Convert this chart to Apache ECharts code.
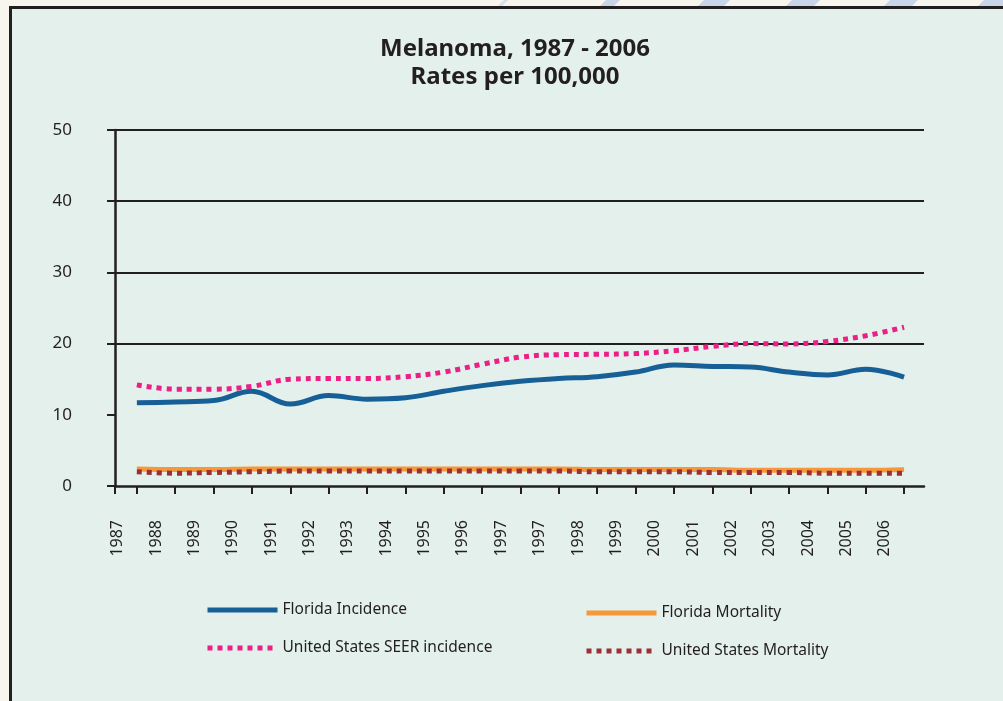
<!DOCTYPE html>
<html>
<head>
<meta charset="utf-8">
<script src="https://cdn.jsdelivr.net/npm/echarts@6/dist/echarts.min.js"></script>
<style>
html,body{margin:0;padding:0;background:#f8f4ee;overflow:hidden;}
#panel{position:absolute;left:9px;top:6px;width:1000px;height:700px;background:#e3f0eb;border-left:3px solid #231f20;border-top:3px solid #231f20;}
#chart{position:absolute;left:0;top:0;width:1003px;height:701px;}
</style>
</head>
<body>
<div id="panel"></div>
<div id="chart"></div>
<script>
// ---- data ----
const years = ['1987','1988','1989','1990','1991','1992','1993','1994','1995','1996','1997',
               '1997','1998','1999','2000','2001','2002','2003','2004','2005','2006'];
const floridaIncidence = [11.7, 11.8, 12.0, 13.3, 11.5, 12.7, 12.2, 12.4, 13.3, 14.1, 14.7,
                          15.1, 15.35, 16.0, 17.0, 16.8, 16.7, 16.0, 15.6, 16.4, 15.3];
const usSeerIncidence = [14.2, 13.6, 13.6, 14.0, 15.0, 15.1, 15.1, 15.35, 16.0, 17.1, 18.1,
                         18.45, 18.5, 18.6, 19.0, 19.6, 20.0, 19.95, 20.3, 21.1, 22.3];
const floridaMortality = [2.4, 2.3, 2.3, 2.4, 2.4, 2.4, 2.4, 2.4, 2.4, 2.4, 2.4,
                          2.4, 2.3, 2.3, 2.3, 2.3, 2.2, 2.2, 2.2, 2.2, 2.3];
const usMortality = [2.0, 1.8, 1.9, 2.0, 2.1, 2.1, 2.1, 2.1, 2.1, 2.1, 2.1,
                     2.1, 2.0, 2.0, 2.0, 1.9, 1.9, 1.9, 1.8, 1.8, 1.8];
const yTickValues = [0, 10, 20, 30, 40, 50];
const seriesNames = ['Florida Incidence', 'Florida Mortality', 'United States SEER incidence', 'United States Mortality'];

// ---- build ----
const idx = years.map((_, i) => i);
const X_MIN = -0.57, X_MAX = 20.52;
const tickVals = [X_MIN].concat(idx);
const labelVals = idx.map(i => i - 0.5);
const pairs = arr => arr.map((v, i) => [i, v]);
const INK = '#231f20';
const FONT = "'Noto Sans',sans-serif";

const chart = echarts.init(document.getElementById('chart'), null, {renderer: 'canvas'});

function stripe(x, w, color) {
  return {type: 'polygon', silent: true, z: -10,
    shape: {points: [[x + 6, 0], [x + 6 + w, 0], [x + w, 6], [x, 6]]},
    style: {fill: color}};
}

const legendCommon = {
  orient: 'vertical', itemGap: 18, padding: 0,
  itemWidth: 70, itemHeight: 20,
  itemStyle: {opacity: 0, color: 'transparent', borderWidth: 0},
  lineStyle: {width: 5},
  textStyle: {fontFamily: FONT, fontSize: 15.5, color: INK, lineHeight: 20},
  selectedMode: false
};

chart.setOption({
  backgroundColor: 'transparent',
  animation: false,
  graphic: [
    stripe(498, 4, '#d9e0ec'), stripe(600, 14, '#c8d4e8'), stripe(698, 26, '#c8d4e8'),
    stripe(786, 28, '#c8d4e8'), stripe(884, 28, '#c8d4e8'), stripe(978, 30, '#c8d4e8')
  ],
  title: {
    text: 'Melanoma, 1987 - 2006\nRates per 100,000',
    left: 515, top: 35, textAlign: 'center', padding: 0,
    textStyle: {fontFamily: FONT, fontWeight: 'bold', fontSize: 24, lineHeight: 28, color: INK}
  },
  grid: {left: 115, right: 79, top: 130, bottom: 215, containLabel: false},
  legend: [
    Object.assign({data: [seriesNames[0], seriesNames[2]], left: 205, top: 600}, legendCommon),
    Object.assign({data: [seriesNames[1], seriesNames[3]], left: 584, top: 603}, legendCommon)
  ],
  xAxis: {
    type: 'value', min: X_MIN, max: X_MAX,
    axisLine: {show: true, onZero: false, lineStyle: {color: INK, width: 2.5}},
    axisTick: {show: true, customValues: tickVals, length: 8, lineStyle: {color: INK, width: 2}},
    axisLabel: {
      customValues: labelVals, rotate: 90, margin: 34,
      formatter: v => years[Math.round(v + 0.5)],
      fontFamily: FONT, fontSize: 16, color: INK
    },
    splitLine: {show: false}
  },
  yAxis: {
    type: 'value', min: yTickValues[0], max: yTickValues[yTickValues.length - 1], interval: 10,
    axisLine: {show: true, onZero: false, lineStyle: {color: INK, width: 2.5}},
    axisTick: {show: true, length: 8, lineStyle: {color: INK, width: 2}},
    axisLabel: {margin: 43, fontFamily: FONT, fontSize: 17, color: INK},
    splitLine: {show: true, lineStyle: {color: ['rgba(0,0,0,0)', 'rgba(0,0,0,0)', INK, INK, INK, INK], width: 2}}
  },
  series: [
    {name: seriesNames[0], type: 'line', data: pairs(floridaIncidence), symbol: 'none', smooth: 0.4,
     lineStyle: {color: '#175f97', width: 5}, itemStyle: {color: '#175f97'}},
    {name: seriesNames[1], type: 'line', data: pairs(floridaMortality), symbol: 'none', smooth: 0.4,
     lineStyle: {color: '#f6983a', width: 5}, itemStyle: {color: '#f6983a'}},
    {name: seriesNames[2], type: 'line', data: pairs(usSeerIncidence), symbol: 'none', smooth: 0.4,
     lineStyle: {color: '#ec1f86', width: 5, type: [5, 5], cap: 'butt'}, itemStyle: {color: '#ec1f86'}},
    {name: seriesNames[3], type: 'line', data: pairs(usMortality), symbol: 'none', smooth: 0.4,
     lineStyle: {color: '#9b2f38', width: 5, type: [5, 5], cap: 'butt'}, itemStyle: {color: '#9b2f38'}}
  ]
});
</script>
</body>
</html>
